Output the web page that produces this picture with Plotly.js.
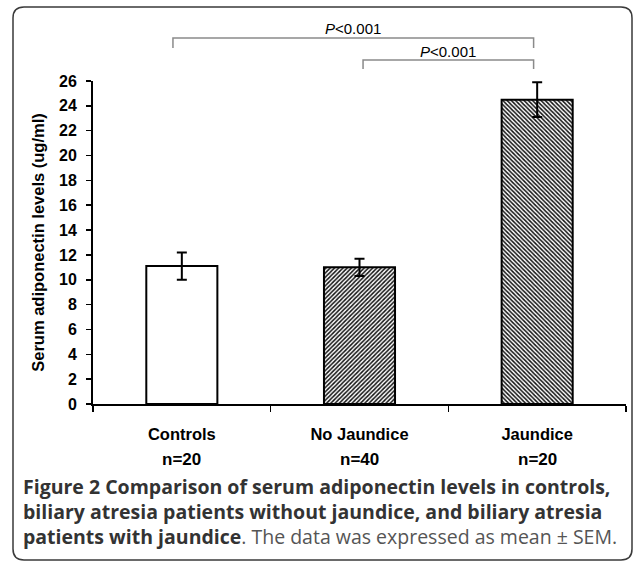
<!DOCTYPE html>
<html>
<head>
<meta charset="utf-8">
<script src="https://cdn.plot.ly/plotly-3.0.1.min.js"></script>
<style>html,body{margin:0;padding:0;background:#fff;}#chart{width:633px;height:562px;}</style>
</head>
<body>
<div id="chart"></div>
<script>
// ---- data ----
var categories = ["Controls", "No Jaundice", "Jaundice"];
var sampleSizes = ["n=20", "n=40", "n=20"];
var meanValues = [11.1, 11.0, 24.5];
var semValues = [1.1, 0.7, 1.4];
var hatchShapes = ["", "/", "\\"];
var yTickValues = [0, 2, 4, 6, 8, 10, 12, 14, 16, 18, 20, 22, 24, 26];
var pLabels = ["<i>P</i><0.001", "<i>P</i><0.001"];
var captionLines = [
  "<b>Figure 2 Comparison of serum adiponectin levels in controls,</b>",
  "<b>biliary atresia patients without jaundice, and biliary atresia</b>",
  "<b>patients with jaundice</b><span style=\"color:#555\">. The data was expressed as mean ± SEM.</span>"
];

// ---- layout helpers (pixel -> paper) ----
var W = 633, H = 562;
var mL = 93, mR = 7, mT = 81, mB = 158;
var pw = W - mL - mR, ph = H - mT - mB;
function px(x) { return (x - mL) / pw; }
function py(y) { return (H - mB - y) / ph; }

var axisFont = "Liberation Sans, Arial, sans-serif";

var trace = {
  type: "bar",
  x: categories,
  y: meanValues,
  width: 0.4,
  marker: {
    color: "#ffffff",
    line: { color: "#000000", width: 2 },
    pattern: { shape: hatchShapes, size: 3, solidity: 0.5, fgcolor: "#111111", bgcolor: "#ffffff", fillmode: "replace" }
  },
  error_y: { type: "data", array: semValues, visible: true, color: "#000000", thickness: 2, width: 5 },
  hoverinfo: "none"
};

// border with rounded corners (paper coords)
var bx0 = 13, by0 = 7, bx1 = 632, by1 = 560, r = 11;
var borderPath =
  "M " + px(bx0 + r) + "," + py(by0) +
  " L " + px(bx1 - r) + "," + py(by0) +
  " Q " + px(bx1) + "," + py(by0) + " " + px(bx1) + "," + py(by0 + r) +
  " L " + px(bx1) + "," + py(by1 - r) +
  " Q " + px(bx1) + "," + py(by1) + " " + px(bx1 - r) + "," + py(by1) +
  " L " + px(bx0 + r) + "," + py(by1) +
  " Q " + px(bx0) + "," + py(by1) + " " + px(bx0) + "," + py(by1 - r) +
  " L " + px(bx0) + "," + py(by0 + r) +
  " Q " + px(bx0) + "," + py(by0) + " " + px(bx0 + r) + "," + py(by0) + " Z";

function bracket(xa, xb, yTop, yEnd) {
  return {
    type: "path", xref: "x", yref: "paper",
    path: "M " + xa + "," + py(yEnd) + " L " + xa + "," + py(yTop) + " L " + xb + "," + py(yTop) + " L " + xb + "," + py(yEnd),
    line: { color: "#8a8a8a", width: 1.5 }
  };
}

var shapes = [
  { type: "path", xref: "paper", yref: "paper", path: borderPath, line: { color: "#3a3a3a", width: 1.5 } },
  bracket(-0.05, 1.98, 38, 48),
  bracket(1.02, 1.98, 60, 69)
];

var annotations = [];
annotations.push({ x: (-0.05 + 1.98) / 2, xref: "x", y: py(29), yref: "paper", text: pLabels[0], showarrow: false,
  font: { family: axisFont, size: 15, color: "#000" }, yanchor: "middle" });
annotations.push({ x: (1.02 + 1.98) / 2, xref: "x", y: py(51), yref: "paper", text: pLabels[1], showarrow: false,
  font: { family: axisFont, size: 15, color: "#000" }, yanchor: "middle" });
for (var i = 0; i < categories.length; i++) {
  annotations.push({ x: categories[i], xref: "x", y: py(459), yref: "paper", text: "<b>" + sampleSizes[i] + "</b>",
    showarrow: false, font: { family: axisFont, size: 17, color: "#000" }, yanchor: "middle" });
}
var capY = [486, 511, 536];
for (var j = 0; j < captionLines.length; j++) {
  annotations.push({ x: px(21), xref: "paper", y: py(capY[j]), yref: "paper", xanchor: "left", yanchor: "middle",
    align: "left", text: captionLines[j], showarrow: false,
    font: { family: "Open Sans, sans-serif", size: 19.5, color: "#333333" } });
}

var layout = {
  width: W, height: H,
  margin: { l: mL, r: mR, t: mT, b: mB, pad: 0 },
  paper_bgcolor: "#ffffff", plot_bgcolor: "#ffffff",
  showlegend: false,
  xaxis: {
    type: "category",
    range: [-0.5, 2.5],
    tickmode: "array", tickvals: categories,
    ticktext: categories.map(function (c) { return "<b>" + c + "</b>"; }),
    tickfont: { family: axisFont, size: 16.5, color: "#000" },
    showline: true, linecolor: "#000", linewidth: 2,
    ticks: "outside", tickson: "boundaries", ticklen: 6, tickwidth: 1.5, tickcolor: "#000",
    ticklabelstandoff: 14,
    showgrid: false, zeroline: false, fixedrange: true
  },
  yaxis: {
    range: [0, 26],
    tickmode: "array", tickvals: yTickValues,
    ticktext: yTickValues.map(function (v) { return "<b>" + v + "</b>"; }),
    tickfont: { family: axisFont, size: 16, color: "#000" },
    showline: true, linecolor: "#000", linewidth: 2,
    ticks: "outside", ticklen: 5, tickwidth: 1.5, tickcolor: "#000",
    ticklabelstandoff: 6,
    showgrid: false, zeroline: false, fixedrange: true,
    title: { text: "<b>Serum adiponectin levels (ug/ml)</b>", font: { family: axisFont, size: 16.5, color: "#000" }, standoff: 10 }
  },
  shapes: shapes,
  annotations: annotations
};

Plotly.newPlot("chart", [trace], layout, { displayModeBar: false, staticPlot: true });
</script>
</body>
</html>
